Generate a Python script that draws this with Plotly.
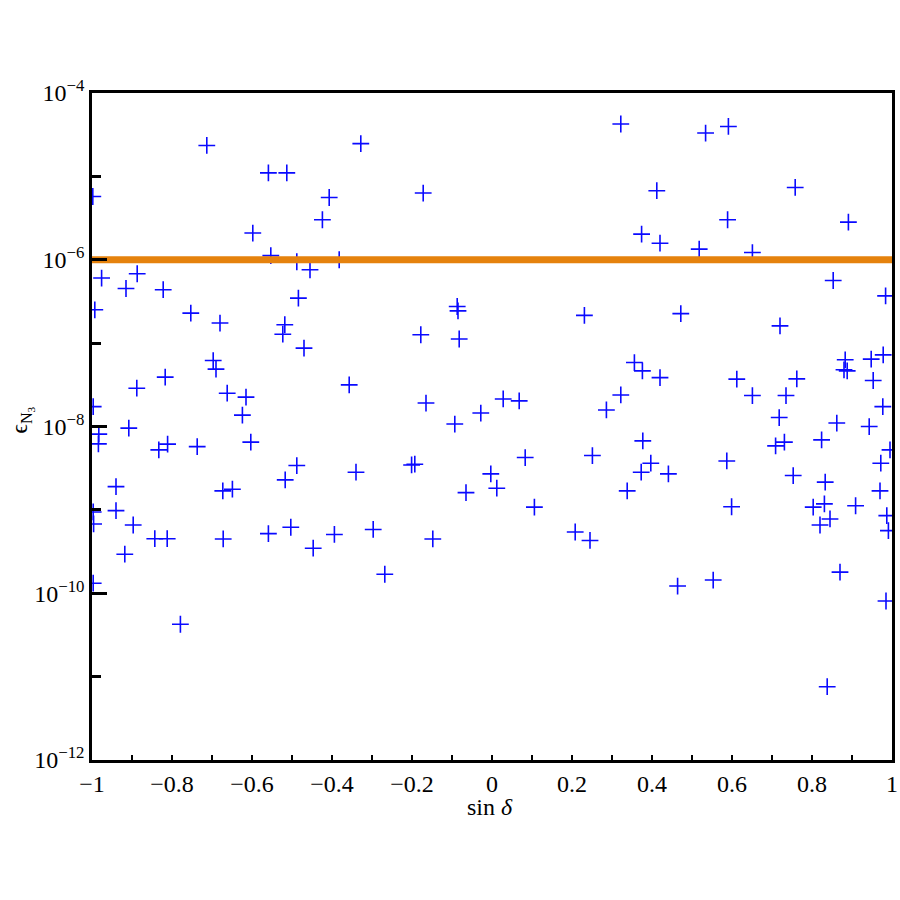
import plotly.graph_objects as go

# sin(delta) values of the scan points
sin_delta = [
    -0.713, -0.559, -0.513, -0.998, -0.407, -0.424, -0.598, -0.553, -0.488, -0.382,
    -0.455, -0.976, -0.887, -0.915, -0.822, -0.484, -0.993, -0.753, -0.328, -0.172,
    -0.087, -0.085, 0.231, 0.322, 0.534, 0.591, 0.412, 0.758, 0.589, 0.891,
    0.374, 0.420, 0.518, 0.651, 0.853, 0.984, 0.472, 0.720, -0.680, -0.518,
    -0.523, -0.470, -0.697, -0.690, -0.817, -0.888, -0.357, -0.662, -0.615, -0.624,
    -0.997, -0.908, -0.983, -0.984, -0.833, -0.811, -0.737, -0.603, -0.488, -0.517,
    -0.340, -0.940, -0.673, -0.649, -0.997, -0.996, -0.940, -0.897, -0.843, -0.812,
    -0.672, -0.559, -0.503, -0.394, -0.918, -0.447, -0.997, -0.779, -0.178, -0.082,
    -0.165, -0.093, -0.028, 0.028, 0.068, 0.286, -0.201, -0.193, -0.003, 0.012,
    -0.065, 0.083, 0.106, 0.251, -0.297, -0.148, 0.208, 0.245, -0.268, 0.356,
    0.376, 0.420, 0.322, 0.612, 0.762, 0.883, 0.880, 0.888, 0.948, 0.978,
    0.953, 0.651, 0.735, 0.977, 0.718, 0.862, 0.943, 0.377, 0.731, 0.709,
    0.824, 0.995, 0.397, 0.373, 0.441, 0.587, 0.753, 0.833, 0.972, 0.338,
    0.970, 0.599, 0.803, 0.831, 0.909, 0.820, 0.845, 0.987, 0.991, 0.464,
    0.553, 0.870, 0.985, 0.838,
]

# epsilon_N3 values of the scan points
eps_n3 = [
    2.35e-5, 1.10e-5, 1.10e-5, 5.74e-6, 5.58e-6, 3.02e-6, 2.09e-6, 1.12e-6, 9.46e-7, 1.0e-6,
    7.59e-7, 6.03e-7, 6.79e-7, 4.52e-7, 4.37e-7, 3.47e-7, 2.51e-7, 2.29e-7, 2.47e-5, 6.31e-6,
    2.75e-7, 2.44e-7, 2.15e-7, 4.25e-5, 3.31e-5, 3.97e-5, 6.73e-6, 7.36e-6, 3.02e-6, 2.83e-6,
    2.03e-6, 1.58e-6, 1.34e-6, 1.22e-6, 5.64e-7, 3.69e-7, 2.26e-7, 1.61e-7, 1.74e-7, 1.66e-7,
    1.28e-7, 8.71e-8, 6.18e-8, 4.88e-8, 3.91e-8, 2.88e-8, 3.16e-8, 2.51e-8, 2.25e-8, 1.37e-8,
    1.73e-8, 9.55e-9, 8.09e-9, 6.19e-9, 5.24e-9, 6.14e-9, 5.74e-9, 6.49e-9, 3.40e-9, 2.29e-9,
    2.83e-9, 1.90e-9, 1.69e-9, 1.77e-9, 9.44e-10, 6.78e-10, 9.80e-10, 6.59e-10, 4.51e-10, 4.51e-10,
    4.48e-10, 5.19e-10, 6.19e-10, 5.07e-10, 2.94e-10, 3.47e-10, 1.32e-10, 4.25e-11, 1.26e-7, 1.12e-7,
    1.91e-8, 1.07e-8, 1.45e-8, 2.14e-8, 2.03e-8, 1.58e-8, 3.46e-9, 3.53e-9, 2.70e-9, 1.82e-9,
    1.61e-9, 4.24e-9, 1.08e-9, 4.48e-9, 5.82e-10, 4.48e-10, 5.43e-10, 4.30e-10, 1.69e-10, 5.85e-8,
    4.65e-8, 3.86e-8, 2.39e-8, 3.70e-8, 3.73e-8, 6.31e-8, 4.79e-8, 4.65e-8, 6.43e-8, 7.23e-8,
    3.56e-8, 2.35e-8, 2.35e-8, 1.73e-8, 1.28e-8, 1.10e-8, 9.98e-9, 6.72e-9, 6.49e-9, 5.85e-9,
    6.91e-9, 5.24e-9, 3.63e-9, 2.83e-9, 2.70e-9, 3.86e-9, 2.58e-9, 2.15e-9, 3.63e-9, 1.69e-9,
    1.69e-9, 1.09e-9, 1.08e-9, 1.18e-9, 1.12e-9, 6.59e-10, 7.78e-10, 8.53e-10, 5.64e-10, 1.22e-10,
    1.44e-10, 1.79e-10, 8.07e-11, 7.57e-12,
]

# horizontal bound
bound_x = [-1, 1]
bound_y = [1e-6, 1e-6]

# tick definitions
y_major_vals = [1e-4, 1e-6, 1e-8, 1e-10, 1e-12]
y_major_text = ["10<sup>−4</sup>", "10<sup>−6</sup>", "10<sup>−8</sup>", "10<sup>−10</sup>", "10<sup>−12</sup>"]
y_minor_vals = [1e-5, 1e-7, 1e-9, 1e-11]
x_major_vals = [-1, -0.8, -0.6, -0.4, -0.2, 0, 0.2, 0.4, 0.6, 0.8, 1]
x_major_text = ["−1", "−0.8", "−0.6", "−0.4", "−0.2", "0", "0.2", "0.4", "0.6", "0.8", "1"]
x_minor_vals = [-0.9, -0.7, -0.5, -0.3, -0.1, 0.1, 0.3, 0.5, 0.7, 0.9]

serif = "Liberation Serif, Times New Roman, serif"

fig = go.Figure()
fig.add_trace(go.Scatter(
    x=sin_delta, y=eps_n3, mode="markers",
    marker=dict(symbol="cross-thin", size=12, color="#0000ff",
                line=dict(color="#0a0aff", width=1.6)),
    showlegend=False,
))
fig.add_trace(go.Scatter(
    x=bound_x, y=bound_y, mode="lines",
    line=dict(color="#e5820d", width=7),
    showlegend=False,
))

fig.update_layout(
    width=900, height=900, autosize=False,
    margin=dict(l=92, r=8, t=93, b=140),
    paper_bgcolor="white", plot_bgcolor="white",
    font=dict(family=serif, size=24, color="black"),
    xaxis=dict(
        range=[-1, 1], showgrid=False, zeroline=False, automargin=False,
        showline=True, linecolor="black", linewidth=2.5, mirror=True,
        tickmode="array", tickvals=x_major_vals, ticktext=x_major_text,
        ticks="inside", ticklen=5, tickwidth=2, tickcolor="black",
        tickfont=dict(family=serif, size=24),
        minor=dict(tickmode="array", tickvals=x_minor_vals, ticks="inside",
                   ticklen=5, tickwidth=2, tickcolor="black", showgrid=False),
    ),
    yaxis=dict(
        type="log", range=[-12, -4], showgrid=False, zeroline=False, automargin=False,
        showline=True, linecolor="black", linewidth=2.5, mirror=True,
        tickmode="array", tickvals=y_major_vals, ticktext=y_major_text,
        ticks="inside", ticklen=15, tickwidth=2.5, tickcolor="black",
        tickfont=dict(family=serif, size=24),
        minor=dict(tickmode="array", tickvals=y_minor_vals, ticks="inside",
                   ticklen=9, tickwidth=2.5, tickcolor="black", showgrid=False),
    ),
    annotations=[
        dict(
            text="ϵ<sub>N<sub>3</sub></sub>", textangle=-90,
            xref="paper", yref="paper", x=-0.088, y=0.51,
            xanchor="center", yanchor="middle", showarrow=False,
            font=dict(family=serif, size=23),
        ),
        dict(
            text="sin <i>δ</i>",
            xref="paper", yref="paper", x=0.4975, y=-0.071,
            xanchor="center", yanchor="middle", showarrow=False,
            font=dict(family=serif, size=24),
        ),
    ],
)

fig.write_html("out.html", config={"displayModeBar": False},
               post_script="document.body.style.margin='0';")
